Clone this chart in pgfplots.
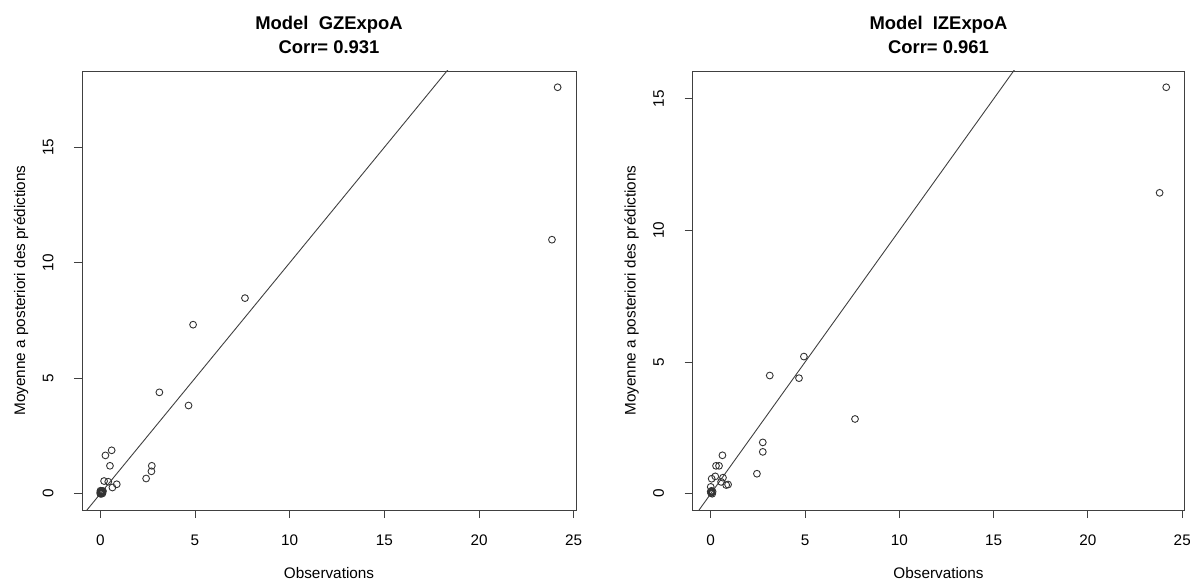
\documentclass[border=0pt]{standalone}
\usepackage{pgfplots}
\pgfplotsset{compat=1.18}
\usepackage{fontspec}
\setmainfont{Liberation Sans}

% Observed values against posterior mean predictions, one table per model
\pgfplotstableread{
obs pred
24.15 17.60
23.85 11.00
7.64 8.47
4.90 7.32
3.12 4.39
4.66 3.82
0.27 1.66
0.60 1.88
0.51 1.21
2.72 1.21
2.70 0.97
2.42 0.66
0.20 0.55
0.42 0.52
0.64 0.27
0.87 0.41
0.00 0.00
0.05 0.02
0.10 0.05
0.02 0.10
0.08 0.12
0.00 0.06
0.12 0.09
0.05 0.00
0.14 0.12
0.03 0.04
0.07 0.07
0.11 0.01
0.01 0.13
0.09 0.10
}\gzexpo

\pgfplotstableread{
obs pred
24.15 15.44
23.80 11.43
7.65 2.84
4.94 5.21
3.13 4.49
4.68 4.39
2.76 1.95
2.76 1.59
2.45 0.76
0.62 1.46
0.28 1.06
0.44 1.06
0.05 0.57
0.24 0.66
0.65 0.61
0.82 0.33
0.92 0.35
0.55 0.45
0.00 0.26
0.02 0.02
0.05 0.05
0.08 0.00
0.00 0.08
0.10 0.08
0.04 0.11
}\izexpo

\pgfplotsset{
  rpanel/.style={
    scale only axis,
    height=439pt,
    xmin=-0.966, xmax=25.12,
    xtick={0,5,10,15,20,25},
    ytick={0,5,10,15},
    tick pos=left,
    tick align=outside,
    major tick length=8pt,
    axis line style={black!75, line width=0.9pt},
    tick style={black!75, line width=0.9pt},
    /pgf/number format/assume math mode=true,
    tick label style={font=\fontsize{15.3}{18}\selectfont},
    xticklabel style={yshift=-13pt},
    yticklabel style={rotate=90, yshift=17pt},
    label style={font=\fontsize{15.3}{18}\selectfont},
    xlabel style={at={(axis description cs:0.5,0)}, anchor=center, yshift=-63pt},
    ylabel style={at={(axis description cs:0,0.5)}, anchor=center, rotate=0, yshift=61pt},
    title style={at={(axis description cs:0.5,1)}, anchor=center, yshift=30pt,
      align=center, font=\bfseries\fontsize{18.4}{24}\selectfont},
    xlabel={Observations},
    ylabel={Moyenne a posteriori des prédictions},
    clip=true,
  },
  pts/.style={only marks, mark=o, mark size=3.4pt, black!80,
    mark options={line width=0.9pt}},
  idline/.style={black!75, line width=0.9pt},
}

\begin{document}
\begin{tikzpicture}
\useasboundingbox (0,0) rectangle (1190pt,581pt);

\begin{axis}[rpanel, at={(82pt,71pt)}, anchor=south west, width=494pt,
  ymin=-0.704, ymax=18.304,
  title={Model\ \ GZExpoA\\Corr= 0.931}]
  \addplot[idline] coordinates {(-2,-2) (30,30)};
  \addplot[pts] table[x=obs, y=pred] {\gzexpo};
\end{axis}

\begin{axis}[rpanel, at={(692.5pt,71pt)}, anchor=south west, width=492pt,
  ymin=-0.618, ymax=16.058,
  title={Model\ \ IZExpoA\\Corr= 0.961}]
  \addplot[idline] coordinates {(-2,-2) (30,30)};
  \addplot[pts] table[x=obs, y=pred] {\izexpo};
\end{axis}
\end{tikzpicture}
\end{document}
